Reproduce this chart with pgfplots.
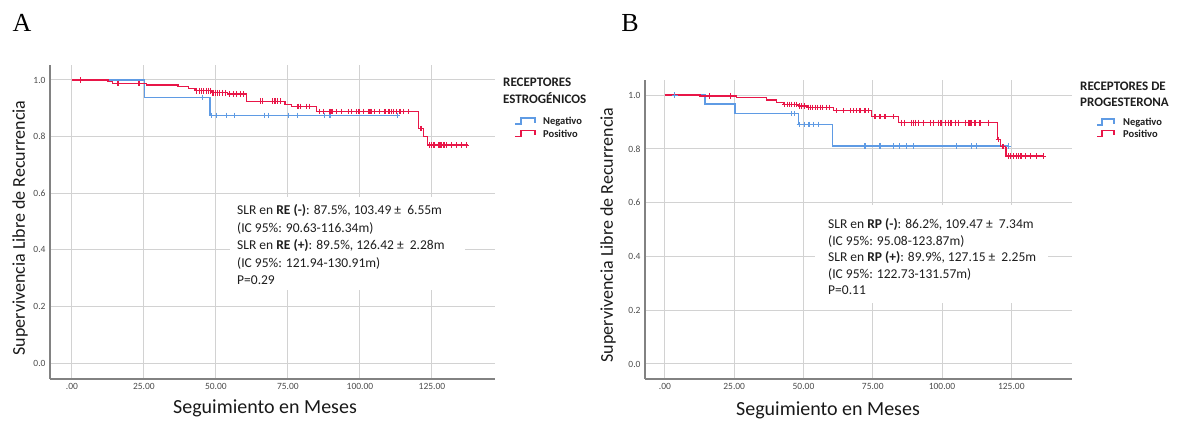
\documentclass[border=0pt]{standalone}
\usepackage{fontspec}
\setmainfont{Carlito}
\newfontfamily\serifA{Liberation Serif}
\usepackage{pgfplots}
\pgfplotsset{compat=1.18}
\definecolor{kmblue}{RGB}{95,155,228}
\definecolor{kmred}{RGB}{232,22,72}
\definecolor{axgray}{RGB}{130,130,130}
\definecolor{gridgray}{RGB}{210,210,210}
\definecolor{ticktext}{RGB}{75,75,75}
\definecolor{txt}{RGB}{30,30,30}
\pgfplotsset{kmaxis/.style={
  scale only axis, anchor=south west,
  axis x line=bottom, axis y line=left,
  axis line style={draw=axgray, line width=1.3pt, -},
  grid=major, grid style={draw=gridgray, line width=1pt},
  major tick length=0pt,
  tick label style={font=\fontsize{9.5}{11}\selectfont, text=ticktext},
  xtick={0,25,50,75,100,125},
  xticklabels={.00,25.00,50.00,75.00,100.00,125.00},
  ytick={0,0.2,0.4,0.6,0.8,1.0},
  yticklabels={0.0,0.2,0.4,0.6,0.8,1.0},
  xticklabel style={yshift=-1pt},
  yticklabel style={xshift=-1pt},
},
kmstep/.style={const plot, line width=1.4pt},
kmcens/.style={only marks, mark=+, mark size=2.8pt, line width=1.1pt},
}
\begin{document}
\begin{tikzpicture}
\useasboundingbox (0pt,0pt) rectangle (1178pt,422pt);
% ---------------- Panel A ----------------
\begin{axis}[kmaxis, at={(50pt,43pt)}, width=445pt, height=314pt,
  xmin=-7.6, xmax=146.9, ymin=-0.0565, ymax=1.053]
\addplot[kmstep, kmblue] coordinates {(0,1.0) (25.3,0.9375) (47.9,0.875) (113.0,0.875)};
\addplot[kmcens, kmblue] coordinates {(45.3,0.9375) (48.6,0.875) (50.2,0.875) (53.7,0.875) (56.3,0.875) (67.0,0.875) (68.2,0.875) (75.1,0.875) (78.2,0.875) (87.8,0.875) (89.6,0.875) (113.0,0.875)};
\addplot[kmstep, kmred] coordinates {(0,1.0) (12.5,0.994) (14.2,0.988) (25.9,0.982) (36.9,0.976) (40.4,0.970) (42.7,0.962) (48.5,0.955) (54,0.950) (60.6,0.925) (74,0.914) (76.3,0.907) (85,0.888) (120.3,0.829) (122,0.80) (123.4,0.770) (137.5,0.770)};
\addplot[kmcens, kmred] coordinates {(3.1,1.0) (16,0.988) (23.3,0.988)
 (43.3,0.962) (44.2,0.962) (45.0,0.962) (45.8,0.962) (46.6,0.962) (47.4,0.962) (48.2,0.962)
 (49.0,0.955) (49.8,0.955) (50.6,0.955) (51.4,0.955) (52.3,0.955) (53.2,0.955)
 (54.8,0.950) (56.0,0.950) (57.3,0.950) (58.6,0.950) (59.6,0.950)
 (65.5,0.925) (66.3,0.925) (69.5,0.925) (70.5,0.925) (71.5,0.925) (72.5,0.925)
 (78.5,0.907) (79.5,0.907) (81.5,0.907) (82.5,0.907)
 (86.1,0.888) (87.3,0.888) (89.4,0.888) (89.8,0.888) (90.3,0.888) (91.9,0.888) (93.6,0.888) (95.9,0.888) (97.1,0.888) (98.8,0.888) (99.4,0.888) (100,0.888) (101.2,0.888) (102.9,0.888) (103.5,0.888) (104.1,0.888) (105.2,0.888) (106.9,0.888) (108.7,0.888) (109.8,0.888) (110.4,0.888) (111,0.888) (111.6,0.888) (112.7,0.888) (113.9,0.888) (115,0.888) (116.8,0.888)
 (121.2,0.829)
 (124.3,0.770) (124.9,0.770) (125.5,0.770) (126.0,0.770) (127.2,0.770) (127.8,0.770) (128.4,0.770) (128.9,0.770) (129.5,0.770) (130.1,0.770) (131.8,0.770) (133.6,0.770) (135.3,0.770) (137.0,0.770)};
\end{axis}
% ---------------- Panel B ----------------
\begin{axis}[kmaxis, at={(645pt,43pt)}, width=427pt, height=299pt,
  xmin=-7.2, xmax=146.9, ymin=-0.0558, ymax=1.056]
\addplot[kmstep, kmblue] coordinates {(0,1.0) (14.4,0.966) (25.3,0.931) (48.1,0.891) (60.5,0.810) (123.9,0.810)};
\addplot[kmcens, kmblue] coordinates {(3.6,1.0) (45.7,0.931) (46.9,0.931) (48.5,0.891) (50.3,0.891) (52.0,0.891) (53.5,0.891) (55.3,0.891) (72.2,0.810) (77.6,0.810) (82.4,0.810) (84.8,0.810) (87.3,0.810) (89.6,0.810) (105.3,0.810) (110.7,0.810) (112.5,0.810) (123.9,0.810)};
\addplot[kmstep, kmred] coordinates {(0,1.0) (12.6,0.996) (25.9,0.990) (36.7,0.981) (40.3,0.973) (42.7,0.965) (48.1,0.960) (51.2,0.954) (60.8,0.942) (74.6,0.920) (84.2,0.897) (120,0.835) (121.2,0.808) (123.1,0.773) (136.6,0.773)};
\addplot[kmcens, kmred] coordinates {(16.2,0.996) (23.5,0.996)
 (43.3,0.965) (44.2,0.965) (45.0,0.965) (45.8,0.965) (46.6,0.965) (47.4,0.965)
 (48.6,0.960) (49.4,0.960) (50.2,0.960)
 (51.8,0.954) (52.6,0.954) (53.4,0.954) (54.2,0.954) (55.0,0.954) (56.0,0.954) (57.0,0.954) (58.2,0.954) (59.4,0.954)
 (62.0,0.942) (64.4,0.942) (66.8,0.942) (68.0,0.942) (69.2,0.942) (70.4,0.942) (72.2,0.942) (73.4,0.942)
 (75.8,0.920) (77.6,0.920) (79.4,0.920) (82.4,0.920)
 (85.5,0.897) (86.6,0.897) (89.1,0.897) (89.6,0.897) (90.3,0.897) (91.4,0.897) (93.3,0.897) (95.7,0.897) (96.9,0.897) (98.7,0.897) (99.3,0.897) (99.9,0.897) (101.1,0.897) (102.3,0.897) (102.9,0.897) (103.5,0.897) (104.7,0.897) (105.9,0.897) (108.3,0.897) (109.5,0.897) (110.1,0.897) (110.7,0.897) (111.9,0.897) (113.7,0.897) (116.7,0.897)
 (120.3,0.835) (122.0,0.808)
 (123.9,0.773) (124.8,0.773) (125.7,0.773) (127.0,0.773) (127.6,0.773) (128.2,0.773) (128.8,0.773) (130.0,0.773) (131.8,0.773) (134.2,0.773) (136.6,0.773)};
\end{axis}
% ---------------- annotation boxes ----------------
\fill[white] (230pt,132pt) rectangle (465pt,225pt);
\fill[white] (815pt,119pt) rectangle (1048pt,217pt);
\begin{scope}[every node/.style={anchor=base west, inner sep=0pt, text=txt, font=\fontsize{13.5}{15}\selectfont}]
\node at (237pt,207pt) {SLR en \textbf{RE (-)}: 87.5\%, 103.49 ± \ 6.55m};
\node at (237pt,189.5pt) {(IC 95\%: 90.63-116.34m)};
\node at (237pt,172pt) {SLR en \textbf{RE (+)}: 89.5\%, 126.42 ± \ 2.28m};
\node at (237pt,154.5pt) {(IC 95\%: 121.94-130.91m)};
\node at (237pt,137pt) {P=0.29};
\node at (828pt,193pt) {SLR en \textbf{RP (-)}: 86.2\%, 109.47 ± \ 7.34m};
\node at (828pt,176.5pt) {(IC 95\%: 95.08-123.87m)};
\node at (828pt,160pt) {SLR en \textbf{RP (+)}: 89.9\%, 127.15 ± \ 2.25m};
\node at (828pt,143.5pt) {(IC 95\%: 122.73-131.57m)};
\node at (828pt,127pt) {P=0.11};
\end{scope}
% ---------------- legends ----------------
\begin{scope}[every node/.style={anchor=base west, inner sep=0pt, text=txt}]
\node[font=\fontsize{13}{15}\selectfont\bfseries] at (503pt,335pt) {RECEPTORES};
\node[font=\fontsize{13}{15}\selectfont\bfseries] at (503pt,318pt) {ESTROGÉNICOS};
\node[font=\fontsize{10.5}{12}\selectfont\bfseries] at (543pt,297pt) {Negativo};
\node[font=\fontsize{10.5}{12}\selectfont\bfseries] at (543pt,284.5pt) {Positivo};
\node[font=\fontsize{13}{15}\selectfont\bfseries] at (1080pt,331pt) {RECEPTORES DE};
\node[font=\fontsize{13}{15}\selectfont\bfseries] at (1080pt,315pt) {PROGESTERONA};
\node[font=\fontsize{10.5}{12}\selectfont\bfseries] at (1123pt,296pt) {Negativo};
\node[font=\fontsize{10.5}{12}\selectfont\bfseries] at (1123pt,284.5pt) {Positivo};
\end{scope}
\draw[kmblue, line width=1.1pt] (515pt,298pt)--(521pt,298pt)--(521pt,304pt)--(535pt,304pt)--(535pt,299pt);
\draw[kmred, line width=1.1pt] (515pt,285.5pt)--(521pt,285.5pt)--(521pt,291.5pt)--(535pt,291.5pt)--(535pt,286.5pt);
\draw[kmblue, line width=1.1pt] (1097pt,297pt)--(1102pt,297pt)--(1102pt,303pt)--(1114pt,303pt)--(1114pt,298pt);
\draw[kmred, line width=1.1pt] (1097pt,285.5pt)--(1102pt,285.5pt)--(1102pt,291.5pt)--(1114pt,291.5pt)--(1114pt,286.5pt);
% ---------------- axis titles ----------------
\begin{scope}[every node/.style={inner sep=0pt, text=black!90}]
\node[rotate=90, font=\fontsize{18}{20}\selectfont] at (20pt,194pt) {Supervivencia Libre de Recurrencia};
\node[rotate=90, font=\fontsize{18}{20}\selectfont] at (608pt,187pt) {Supervivencia Libre de Recurrencia};
\node[font=\fontsize{20}{22}\selectfont] at (265pt,14pt) {Seguimiento en Meses};
\node[font=\fontsize{20}{22}\selectfont] at (828pt,12pt) {Seguimiento en Meses};
\end{scope}
\node[inner sep=0pt, font=\serifA\fontsize{26}{28}\selectfont] at (22pt,399pt) {A};
\node[inner sep=0pt, font=\serifA\fontsize{26}{28}\selectfont] at (630pt,399pt) {B};
\end{tikzpicture}
\end{document}
